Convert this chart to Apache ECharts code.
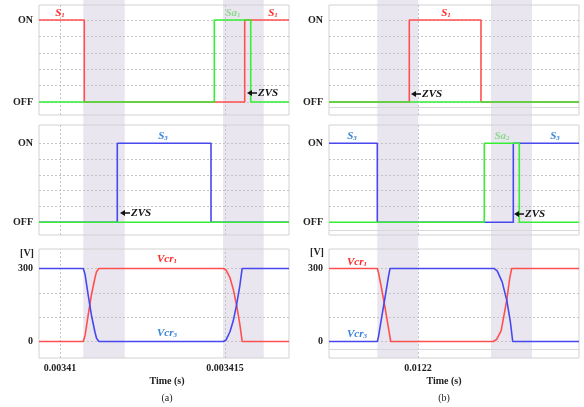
<!DOCTYPE html>
<html><head><meta charset="utf-8">
<script src="https://cdn.jsdelivr.net/npm/echarts@6/dist/echarts.min.js"></script>
<style>html,body{margin:0;padding:0;background:#fff}#c{width:584px;height:407px}</style>
</head><body><div id="c"></div>
<script>
// time in microseconds
const aRange = [3409.364, 3416.939];
const bRange = [12197.303, 12204.879];
const aTicks = [3410, 3415];
const bTicks = [12200];
const aBands = [[3410.706, 3411.961], [3414.939, 3416.173]];
const bBands = [[12198.767, 12200.009], [12202.212, 12203.455]];
const switchGrid = [0, 0.2, 0.4, 0.6, 0.8, 1];
const voltGrid = [0, 100, 200, 300];

const aS1 = [[3409.364,1],[3410.736,1],[3410.736,0],[3415.597,0],[3415.597,1],[3416.939,1]];
const aSa1 = [[3409.364,0],[3414.676,0],[3414.676,1],[3415.779,1],[3415.779,0],[3416.939,0]];
const aS3 = [[3409.364,0],[3411.736,0],[3411.736,1],[3414.576,1],[3414.576,0],[3416.939,0]];
const aSa2 = [[3409.364,0],[3416.939,0]];
const aVcr1 = [[3409.364,0],[3410.706,0],[3410.76,25],[3410.85,105],[3410.95,190],[3411.06,262],[3411.11,288],[3411.18,300],[3414.948,300],[3415.03,294],[3415.15,262],[3415.25,215],[3415.35,150],[3415.45,70],[3415.52,0],[3416.939,0]];
const aVcr3 = [[3409.364,300],[3410.706,300],[3410.76,275],[3410.85,195],[3410.95,110],[3411.06,38],[3411.11,12],[3411.18,0],[3414.948,0],[3415.03,6],[3415.15,40],[3415.25,85],[3415.35,150],[3415.45,230],[3415.52,300],[3416.939,300]];

const bS1 = [[12197.303,0],[12199.736,0],[12199.736,1],[12201.909,1],[12201.909,0],[12204.879,0]];
const bSa1 = [[12197.303,0],[12204.879,0]];
const bS3 = [[12197.303,1],[12198.767,1],[12198.767,0],[12202.888,0],[12202.888,1],[12204.879,1]];
const bSa2 = [[12197.303,0],[12202.009,0],[12202.009,1],[12203.070,1],[12203.070,0],[12204.879,0]];
const bVcr1 = [[12197.303,300],[12198.767,300],[12198.80,285],[12198.90,215],[12199.00,140],[12199.10,60],[12199.173,0],[12202.282,0],[12202.38,8],[12202.52,45],[12202.69,170],[12202.78,260],[12202.839,300],[12204.879,300]];
const bVcr3 = [[12197.303,0],[12198.767,0],[12198.80,18],[12198.90,100],[12199.00,180],[12199.10,262],[12199.152,300],[12202.303,300],[12202.40,290],[12202.55,245],[12202.69,170],[12202.80,80],[12202.87,0],[12204.879,0]];

const RED = '#ff5050', GREEN = '#35ee35', BLUE = '#4848ee';
const FONT = 'Liberation Serif';
const chart = echarts.init(document.getElementById('c'), null, {renderer: 'canvas'});

const cols = [
  {left: 39, range: aRange, ticks: aTicks, extra: false},
  {left: 329, range: bRange, ticks: bTicks, extra: true}
];
const rows = [
  {top: 5, height: 110, ymin: -0.1585, ymax: 1.183, kind: 'sw', extraY: -0.073},
  {top: 125, height: 110, ymin: -0.161, ymax: 1.232, kind: 'sw', extraY: -0.097},
  {top: 249, height: 109, ymin: -67.8, ymax: 380, kind: 'v', extraY: -33}
];
const grids = [], xAxes = [], yAxes = [], series = [];
const seriesData = [
  [[aS1, RED], [aSa1, GREEN]],
  [[bS1, RED], [bSa1, GREEN]],
  [[aS3, BLUE], [aSa2, GREEN]],
  [[bS3, BLUE], [bSa2, GREEN]],
  [[aVcr1, RED], [aVcr3, BLUE]],
  [[bVcr1, RED], [bVcr3, BLUE]]
];
let gi = 0;
rows.forEach((r, ri) => {
  cols.forEach((c, ci) => {
    grids.push({left: c.left, top: r.top, width: 250, height: r.height, show: true, borderColor: '#d2d2d2', borderWidth: 1, backgroundColor: 'transparent'});
    const isBottom = ri === 2;
    xAxes.push({type: 'value', gridIndex: gi, min: c.range[0], max: c.range[1],
      axisLine: {show: false}, splitLine: {show: false},
      axisTick: {show: false},
      axisLabel: {show: isBottom, customValues: c.ticks, margin: 5,
        fontFamily: FONT, fontWeight: 'bold', fontSize: 10, color: '#222',
        formatter: v => String(+(v / 1e6).toPrecision(6))}});
    yAxes.push({type: 'value', gridIndex: gi, min: r.ymin, max: r.ymax,
      axisLine: {show: false}, splitLine: {show: false}, axisTick: {show: false},
      axisLabel: {show: true, customValues: r.kind === 'sw' ? [0, 1] : [0, 300], margin: 6,
        fontFamily: FONT, fontWeight: 'bold', fontSize: 10, color: '#222',
        formatter: v => r.kind === 'sw' ? (v === 1 ? 'ON' : 'OFF') : String(v)}});
    const hLines = (r.kind === 'sw' ? switchGrid : voltGrid).map(v => ({yAxis: v}));
    const vLines = c.ticks.map(v => ({xAxis: v}));
    const mlData = hLines.concat(vLines);
    const extra = c.extra ? [{yAxis: r.extraY, lineStyle: {type: 'solid', color: '#d8d8d8', width: 1}}] : [];
    series.push({type: 'line', xAxisIndex: gi, yAxisIndex: gi, data: [], z: 1,
      markLine: {silent: true, symbol: 'none', label: {show: false}, animation: false, z: 1,
        lineStyle: {type: [2, 2], color: '#c4c4c4', width: 1}, data: mlData.concat(extra)}});
    seriesData[gi].forEach(([d, col]) => {
      series.push({type: 'line', xAxisIndex: gi, yAxisIndex: gi, data: d, showSymbol: false, smooth: false,
        symbol: 'none', animation: false, z: 10, lineStyle: {color: col, width: 1.6}});
    });
    gi++;
  });
});

function lab(x, y, main, sub, color, size) {
  return {type: 'text', x: x, y: y, z: 50, style: {
    text: '{m|' + main + '}{s|' + sub + '}', align: 'center', verticalAlign: 'middle',
    rich: {m: {fontFamily: FONT, fontStyle: 'italic', fontWeight: 'bold', fontSize: size || 11, fill: color},
           s: {fontFamily: FONT, fontStyle: 'italic', fontWeight: 'bold', fontSize: 7, fill: color, verticalAlign: 'bottom', padding: [5, 0, 0, 0]}}}};
}
function txt(x, y, s, opt) {
  return {type: 'text', x: x, y: y, z: 50, style: Object.assign({text: s, align: 'center', verticalAlign: 'middle',
    fontFamily: FONT, fontWeight: 'bold', fontSize: 10, fill: '#222'}, opt || {})};
}
function zvs(tip, y) {
  return [
    {type: 'polygon', z: 50, shape: {points: [[tip, y], [tip + 5, y - 3], [tip + 5, y + 3]]}, style: {fill: '#111'}},
    {type: 'line', z: 50, shape: {x1: tip + 4, y1: y, x2: tip + 10, y2: y}, style: {stroke: '#111', lineWidth: 1.5}},
    {type: 'text', z: 50, x: tip + 11, y: y, style: {text: 'ZVS', verticalAlign: 'middle', align: 'left',
      fontFamily: FONT, fontStyle: 'italic', fontWeight: 'bold', fontSize: 11, fill: '#111'}}
  ];
}
const LRED = '#ff2a2a', LGREEN = '#8ed88e', LBLUE = '#3a84d6';
const texts = [
  lab(60, 13, 'S', '1', LRED), lab(233, 13, 'Sa', '1', LGREEN), lab(273, 13, 'S', '1', LRED),
  lab(446, 13, 'S', '1', LRED),
  lab(163, 136, 'S', '3', LBLUE),
  lab(352, 136, 'S', '3', LBLUE), lab(502, 136, 'Sa', '2', LGREEN), lab(555, 136, 'S', '3', LBLUE),
  lab(167, 259, 'Vcr', '1', LRED), lab(167, 333, 'Vcr', '3', LBLUE),
  lab(357, 262, 'Vcr', '1', LRED), lab(357, 334, 'Vcr', '3', LBLUE),
  txt(27, 253, '[V]'), txt(317, 252, '[V]'),
  txt(167, 381, 'Time (s)'), txt(444, 381, 'Time (s)'),
  txt(167, 398, '(a)', {fontWeight: 'normal'}), txt(444, 398, '(b)', {fontWeight: 'normal'})
].concat(zvs(247, 93), zvs(411, 94), zvs(120, 213), zvs(514, 214));

chart.setOption({animation: false, grid: grids, xAxis: xAxes, yAxis: yAxes, series: series, graphic: {elements: texts}});

// shaded bands spanning all three panels of each column, positioned via the x scales
const rects = [];
[[aBands, 4], [bBands, 5]].forEach(([bands, xi]) => {
  bands.forEach(b => {
    const x0 = chart.convertToPixel({xAxisIndex: xi}, b[0]);
    const x1 = chart.convertToPixel({xAxisIndex: xi}, b[1]);
    rects.push({type: 'rect', z: -1, silent: true, shape: {x: x0, y: 0, width: x1 - x0, height: 358}, style: {fill: '#e9e6ef'}});
  });
});
chart.setOption({graphic: {elements: texts.concat(rects)}});
</script></body></html>
